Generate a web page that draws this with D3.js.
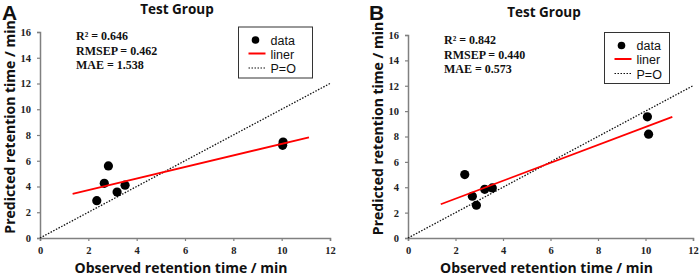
<!DOCTYPE html>
<html>
<head>
<meta charset="utf-8">
<script src="https://cdn.jsdelivr.net/npm/d3@7"></script>
<style>
  body { margin: 0; background: #fff; }
  .tick text { font-family: "Liberation Serif", serif; font-weight: bold; font-size: 10.5px; fill: #222; }
  .stat { font-family: "Liberation Serif", serif; font-weight: bold; font-size: 12px; fill: #111; }
  .title { font-family: "Open Sans", sans-serif; font-weight: bold; font-size: 13.5px; fill: #111; }
  .axis-label { font-family: "Open Sans", sans-serif; font-weight: bold; font-size: 14px; fill: #111; }
  .legend-text { font-family: "Liberation Sans", sans-serif; font-size: 12.5px; fill: #111; }
  .panel-letter { font-family: "Liberation Sans", sans-serif; font-weight: bold; font-size: 21px; fill: #111; }
</style>
</head>
<body>
<svg id="chart" width="699" height="279"></svg>
<script>
// values
const xTicks = [0, 2, 4, 6, 8, 10, 12];
const yTicks = [0, 2, 4, 6, 8, 10, 12, 14, 16];

const obsA = [2.35, 2.66, 2.83, 3.19, 3.52, 10.04, 10.06];
const predA = [2.9, 4.25, 5.6, 3.57, 4.1, 7.2, 7.45];
const fitA = [[1.35, 3.42], [11.13, 7.82]];
const statsA = ['R² = 0.646', 'RMSEP = 0.462', 'MAE = 1.538'];

const obsB = [2.39, 2.71, 2.88, 3.23, 3.55, 10.08, 10.13];
const predB = [5.0, 3.29, 2.58, 3.84, 3.95, 9.55, 8.18];
const fitB = [[1.38, 2.66], [11.13, 9.55]];
const statsB = ['R² = 0.842', 'RMSEP = 0.440', 'MAE = 0.573'];

const identity = [[0, 0], [12, 12]];
const legendLabels = ['data', 'liner', 'P=O'];

const svg = d3.select('#chart');

const drawPanel = p => {
  const x = d3.scaleLinear().domain([0, 12]).range([p.left, p.right]);
  const y = d3.scaleLinear().domain([0, 16]).range([p.bottom, p.top]);
  const g = svg.append('g');

  // axes
  const xAxisG = g.append('g')
    .attr('transform', `translate(0,${p.bottom})`)
    .call(d3.axisBottom(x).tickValues(xTicks).tickSize(3).tickPadding(6));
  const yAxisG = g.append('g')
    .attr('transform', `translate(${p.left},0)`)
    .call(d3.axisLeft(y).tickValues(yTicks).tickSize(3).tickPadding(6));
  [xAxisG, yAxisG].forEach(a => {
    a.select('.domain').attr('stroke', '#808080').attr('stroke-width', 1.5);
    a.selectAll('.tick line').attr('stroke', '#808080').attr('stroke-width', 1.2);
  });

  const line = d3.line().x(d => x(d[0])).y(d => y(d[1]));

  // P=O
  g.append('path').datum(identity)
    .attr('d', line)
    .attr('fill', 'none')
    .attr('stroke', '#111')
    .attr('stroke-width', 1.3)
    .attr('stroke-dasharray', '1.5,1.5');

  // points
  g.selectAll('circle.pt').data(p.obs)
    .enter().append('circle')
      .attr('class', 'pt')
      .attr('cx', d => x(d))
      .attr('cy', (d, i) => y(p.pred[i]))
      .attr('r', 4.6)
      .attr('fill', '#000');

  // fitted line
  g.append('path').datum(p.fit)
    .attr('d', line)
    .attr('fill', 'none')
    .attr('stroke', '#ff0000')
    .attr('stroke-width', 1.8);

  // stats
  g.selectAll('text.stat').data(p.stats)
    .enter().append('text')
      .attr('class', 'stat')
      .attr('x', p.statX)
      .attr('y', (d, i) => p.statY + i * 14.5)
      .text(d => d);

  // legend
  const lg = g.append('g').attr('transform', `translate(${p.legX},${p.legY})`);
  lg.append('rect')
    .attr('width', p.legW).attr('height', 51)
    .attr('fill', '#fff').attr('stroke', '#333').attr('stroke-width', 1);
  lg.append('circle').attr('cx', 17).attr('cy', 13).attr('r', 3.8).attr('fill', '#000');
  lg.append('line').attr('x1', 10).attr('x2', 27)
    .attr('y1', 26.5).attr('y2', 26.5).attr('stroke', '#ff0000').attr('stroke-width', 2);
  lg.append('line').attr('x1', 10).attr('x2', 27)
    .attr('y1', 41).attr('y2', 41).attr('stroke', '#111').attr('stroke-width', 1.2)
    .attr('stroke-dasharray', '1.5,1.5');
  lg.selectAll('text').data(legendLabels)
    .enter().append('text')
      .attr('class', 'legend-text')
      .attr('x', 32)
      .attr('y', (d, i) => 17.5 + i * 14.3)
      .text(d => d);

  // titles
  g.append('text').attr('class', 'title')
    .attr('x', p.titleX).attr('y', p.titleY)
    .attr('text-anchor', 'middle').text('Test Group');
  g.append('text').attr('class', 'panel-letter')
    .attr('x', p.letterX).attr('y', 20).text(p.letter);
  g.append('text').attr('class', 'axis-label')
    .attr('x', (p.left + p.right) / 2 - 4).attr('y', 273)
    .attr('text-anchor', 'middle').text('Observed retention time / min');
  g.append('text').attr('class', 'axis-label')
    .attr('transform', `translate(${p.left - 25},${(p.top + p.bottom) / 2 - 8}) rotate(-90)`)
    .attr('text-anchor', 'middle').text('Predicted retention time / min');
};

drawPanel({
  left: 40, right: 330, top: 32, bottom: 238,
  obs: obsA, pred: predA, fit: fitA, stats: statsA,
  statX: 76, statY: 40,
  legX: 238.5, legY: 27, legW: 74,
  titleX: 177, titleY: 14, letter: 'A', letterX: 2
});
drawPanel({
  left: 408, right: 693, top: 35, bottom: 238,
  obs: obsB, pred: predB, fit: fitB, stats: statsB,
  statX: 444, statY: 44,
  legX: 604.5, legY: 32.5, legW: 65,
  titleX: 544, titleY: 17, letter: 'B', letterX: 369
});
</script>
</body>
</html>
